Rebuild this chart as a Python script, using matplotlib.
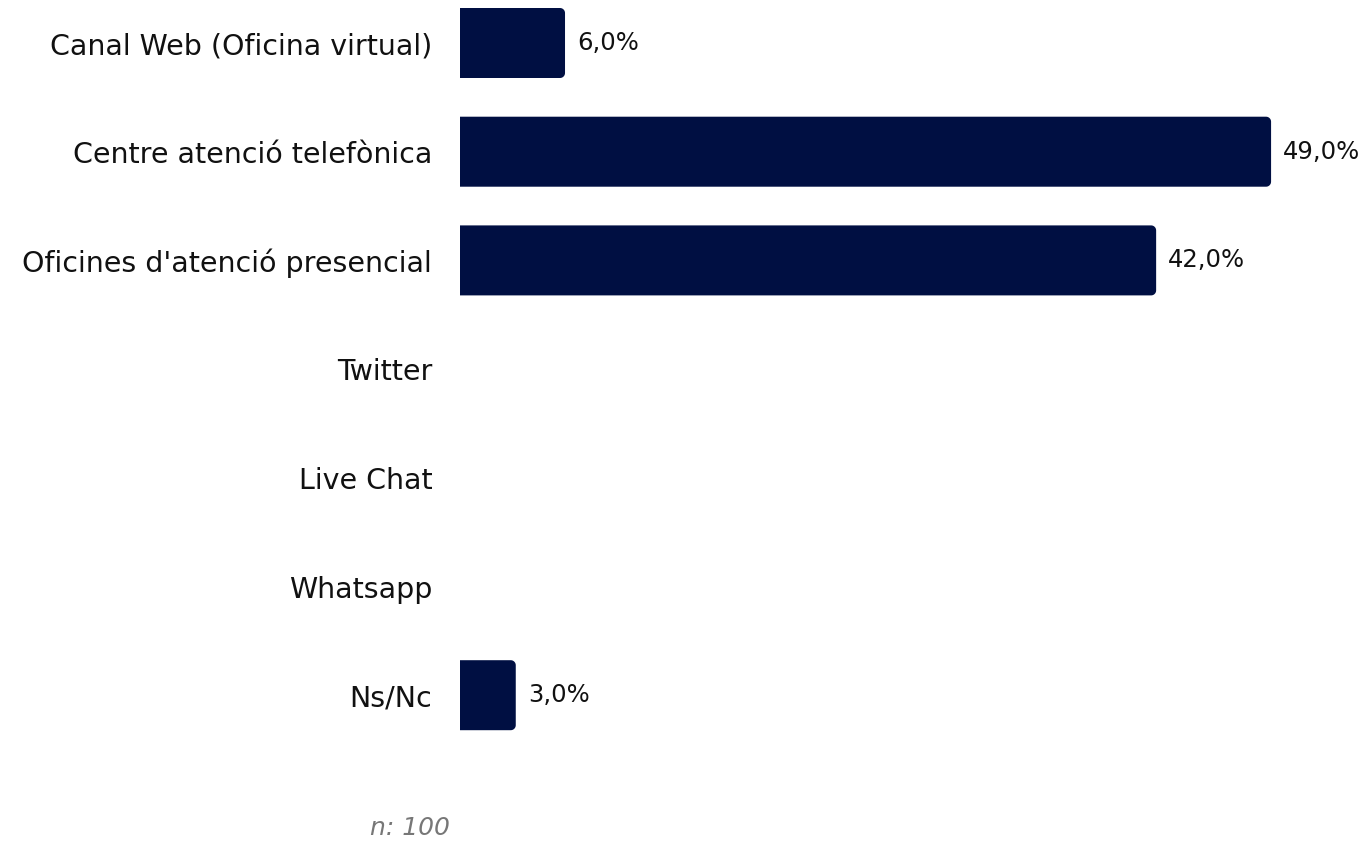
import numpy as np
import matplotlib
matplotlib.use("Agg")
from matplotlib import pyplot as plt
from matplotlib.patches import PathPatch
from matplotlib.path import Path

categories = ["Canal Web (Oficina virtual)", "Centre atenció telefònica",
              "Oficines d'atenció presencial", "Twitter", "Live Chat",
              "Whatsapp", "Ns/Nc"]
values = [6.0, 49.0, 42.0, 0.0, 0.0, 0.0, 3.0]
sample_note = "n: 100"

BAR_COLOR = "#000F42"
FONT = "DejaVu Sans"

W, H = 1366, 841
fig = plt.figure(figsize=(W / 100, H / 100), dpi=100)

# axes placed in pixel terms
ax_left, ax_right, ax_top, ax_bottom = 460, 1366, 0, 760
ax = fig.add_axes([ax_left / W, 1 - ax_bottom / H,
                   (ax_right - ax_left) / W, (ax_bottom - ax_top) / H])

px_per_pct = 16.42
row_px = 108.7
first_px = 43
x0 = -6.5 / px_per_pct  # bars start a bit left of zero
ax.set_xlim(x0, x0 + (ax_right - ax_left) / px_per_pct)
ax.set_ylim((ax_bottom - first_px) / row_px, (ax_top - first_px) / row_px)

bar_h = 70 / row_px
rx = 5 / px_per_pct
ry = 5 / row_px


def right_rounded_bar(left, right, yc, h):
    """polygon for a bar with rounded right corners"""
    top, bot = yc - h / 2, yc + h / 2
    t = np.linspace(0, np.pi / 2, 12)
    pts = [(left, bot), (right - rx, bot)]
    # bottom right corner
    cx, cy = right - rx, bot - ry
    pts += list(zip(cx + rx * np.sin(t), cy + ry * np.cos(t)))
    # top right corner
    cx, cy = right - rx, top + ry
    pts += list(zip(cx + rx * np.cos(t), cy - ry * np.sin(t)))
    pts += [(left, top), (left, bot)]
    return Path(pts, closed=True)


ys = np.arange(len(categories))
for y, v in zip(ys, values):
    if v <= 0:
        continue
    ax.add_patch(PathPatch(right_rounded_bar(x0, v, y, bar_h),
                           fc=BAR_COLOR, ec="none", lw=0))
    ax.text(v + 12 / px_per_pct, y, f"{v:.1f}%".replace(".", ","),
            va="center", ha="left", fontsize=17.5, family=FONT, color="#111111")

ax.set_yticks(ys)
ax.set_yticklabels(categories, fontsize=20.5, family=FONT, color="#111111")
ax.tick_params(axis="y", length=0, pad=20)
ax.set_xticks([])
for s in ax.spines.values():
    s.set_visible(False)

fig.text(450 / W, 1 - 828 / H, sample_note, ha="right", va="center",
         fontsize=18, style="italic", family=FONT, color="#777777")

fig.savefig("out.png", dpi=100)
